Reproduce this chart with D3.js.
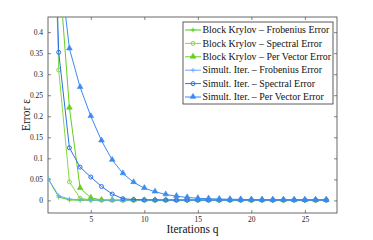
<!DOCTYPE html>
<html>
<head>
<meta charset="utf-8">
<script src="https://cdn.jsdelivr.net/npm/d3@7"></script>
<style>
  body { margin: 0; background: #fff; }
  svg text { font-family: "Liberation Serif", "Times New Roman", "DejaVu Serif", serif !important; }
</style>
</head>
<body>
<div id="chart"></div>
<script>
var iterations = d3.range(1, 28)

var bkFrob = [0.052, 0.008, 0.001, 0.0005, 0.0003, 0.0002, 0.0002, 0.0001, 0.0001, 0.0001, 0.0001, 0.0001, 0.0001, 0.0001, 0.0001, 0.0001, 0.0001, 0.0001, 0.0001, 0.0001, 0.0001, 0.0001, 0.0001, 0.0001, 0.0001, 0.0001, 0.0001]
var bkSpec = [1.2, 0.31, 0.044, 0.005, 0.001, 0.0005, 0.0003, 0.0003, 0.0002, 0.0002, 0.0002, 0.0002, 0.0002, 0.0002, 0.0002, 0.0002, 0.0002, 0.0002, 0.0002, 0.0002, 0.0002, 0.0002, 0.0002, 0.0002, 0.0002, 0.0002, 0.0002]
var bkVec = [1.6, 0.56, 0.22, 0.029, 0.006, 0.001, 0.0005, 0.0004, 0.0003, 0.0003, 0.0003, 0.0003, 0.0003, 0.0003, 0.0003, 0.0003, 0.0003, 0.0003, 0.0003, 0.0003, 0.0003, 0.0003, 0.0003, 0.0003, 0.0003, 0.0003, 0.0003]
var siFrob = [0.052, 0.011, 0.003, 0.0015, 0.001, 0.0008, 0.0006, 0.0005, 0.0005, 0.0004, 0.0004, 0.0004, 0.0004, 0.0004, 0.0004, 0.0004, 0.0004, 0.0004, 0.0004, 0.0004, 0.0004, 0.0004, 0.0004, 0.0004, 0.0004, 0.0004, 0.0004]
var siSpec = [1.2, 0.352, 0.125, 0.079, 0.0555, 0.033, 0.015, 0.004, 0.002, 0.0015, 0.0012, 0.001, 0.001, 0.001, 0.001, 0.001, 0.001, 0.001, 0.001, 0.001, 0.001, 0.001, 0.001, 0.001, 0.001, 0.001, 0.001]
var siVec = [1.6, 0.58, 0.361, 0.269, 0.2, 0.142, 0.096, 0.064, 0.043, 0.029, 0.0205, 0.014, 0.01, 0.007, 0.005, 0.004, 0.0032, 0.0027, 0.0023, 0.002, 0.0018, 0.0016, 0.0015, 0.0014, 0.0013, 0.0012, 0.0012]

var seriesNames = ["Block Krylov \u2013 Frobenius Error", "Block Krylov \u2013 Spectral Error", "Block Krylov \u2013 Per Vector Error",
  "Simult. Iter. \u2013 Frobenius Error", "Simult. Iter. \u2013 Spectral Error", "Simult. Iter. \u2013 Per Vector Error"]
var seriesValues = [bkFrob, bkSpec, bkVec, siFrob, siSpec, siVec]
var seriesMarkers = ["plus", "circle", "triangle", "plus", "circle", "triangle"]
var seriesColors = ["#4ccc14", "#86d84a", "#62d01c", "#6aa8ff", "#2a72e6", "#3a8af2"]

var xTicks = [5, 10, 15, 20, 25]
var yTicks = [0, 0.05, 0.1, 0.15, 0.2, 0.25, 0.3, 0.35, 0.4]

var W = 373, H = 240
var m = {left: 48, right: 337, top: 17, bottom: 213}

var x = d3.scaleLinear().domain([1, 28]).range([m.left, m.right])
var y = d3.scaleLinear().domain([-0.03, 0.436]).range([m.bottom, m.top])

var svg = d3.select('#chart').append('svg')
  .attr('width', W).attr('height', H)

svg.append('defs').append('clipPath').attr('id', 'clip')
  .append('rect').attr('x', m.left).attr('y', m.top)
  .attr('width', m.right - m.left).attr('height', m.bottom - m.top)

/* axes, MATLAB style ticks inside */
svg.append('g')
  .attr('transform', 'translate(0,' + m.bottom + ')')
  .call(d3.axisBottom(x).tickValues(xTicks).tickSize(-3).tickPadding(4).tickFormat(d3.format('d')))
svg.append('g')
  .attr('transform', 'translate(0,' + m.top + ')')
  .call(d3.axisTop(x).tickValues(xTicks).tickSize(-3).tickFormat(''))
svg.append('g')
  .attr('transform', 'translate(' + m.left + ',0)')
  .call(d3.axisLeft(y).tickValues(yTicks).tickSize(-3).tickPadding(5).tickFormat(d => d === 0 ? '0' : String(+d.toFixed(2))))
svg.append('g')
  .attr('transform', 'translate(' + m.right + ',0)')
  .call(d3.axisRight(y).tickValues(yTicks).tickSize(-3).tickFormat(''))

svg.selectAll('.domain').remove()
svg.selectAll('.tick line').attr('stroke', '#333').attr('stroke-width', 0.6)
svg.selectAll('.tick text').attr('font-size', 7.5).attr('fill', '#222')

svg.append('rect')
  .attr('x', m.left).attr('y', m.top)
  .attr('width', m.right - m.left).attr('height', m.bottom - m.top)
  .attr('fill', 'none').attr('stroke', '#444').attr('stroke-width', 0.8)

var plot = svg.append('g').attr('clip-path', 'url(#clip)')

function drawMarker(g, kind, cx, cy, color) {
  if (kind === 'plus') {
    g.append('path').attr('d', 'M' + (cx - 2.3) + ',' + cy + 'H' + (cx + 2.3) + 'M' + cx + ',' + (cy - 2.3) + 'V' + (cy + 2.3))
      .attr('stroke', color).attr('stroke-width', 0.9)
  } else if (kind === 'circle') {
    g.append('circle').attr('cx', cx).attr('cy', cy).attr('r', 2)
      .attr('fill', 'none').attr('stroke', color).attr('stroke-width', 1)
  } else {
    g.append('path').attr('d', d3.symbol().type(d3.symbolTriangle).size(14)())
      .attr('transform', 'translate(' + cx + ',' + (cy - 0.3) + ')')
      .attr('fill', color).attr('stroke', color).attr('stroke-width', 0.6)
  }
}

var line = d3.line()
  .x((d, i) => x(iterations[i]))
  .y(d => y(d))

seriesValues.forEach(function(vals, s) {
  plot.append('path')
    .datum(vals)
    .attr('d', line)
    .attr('fill', 'none')
    .attr('stroke', seriesColors[s])
    .attr('stroke-width', 1)
  var mg = plot.append('g')
  vals.forEach(function(v, i) {
    drawMarker(mg, seriesMarkers[s], x(iterations[i]), y(v), seriesColors[s])
  })
})

/* legend */
var lg = svg.append('g')
lg.append('rect')
  .attr('x', 183).attr('y', 22).attr('width', 150).attr('height', 82)
  .attr('fill', '#fff').attr('stroke', '#333').attr('stroke-width', 0.8)
seriesNames.forEach(function(name, s) {
  var ry = 30 + s * 13.4
  lg.append('line').attr('x1', 185).attr('x2', 201).attr('y1', ry).attr('y2', ry)
    .attr('stroke', seriesColors[s]).attr('stroke-width', 1)
  drawMarker(lg, seriesMarkers[s], 193, ry, seriesColors[s])
  lg.append('text').attr('x', 202.5).attr('y', ry + 3.2)
    .attr('font-size', 9.9).attr('fill', '#111').text(name)
})

svg.append('text')
  .attr('x', (m.left + m.right) / 2).attr('y', 233)
  .attr('text-anchor', 'middle').attr('font-size', 11.5).attr('fill', '#111')
  .text('Iterations q')

svg.append('text')
  .attr('transform', 'translate(30,' + ((m.top + m.bottom) / 2) + ') rotate(-90)')
  .attr('text-anchor', 'middle').attr('font-size', 11.5).attr('fill', '#111')
  .text('Error \u03b5')
</script>
</body>
</html>
